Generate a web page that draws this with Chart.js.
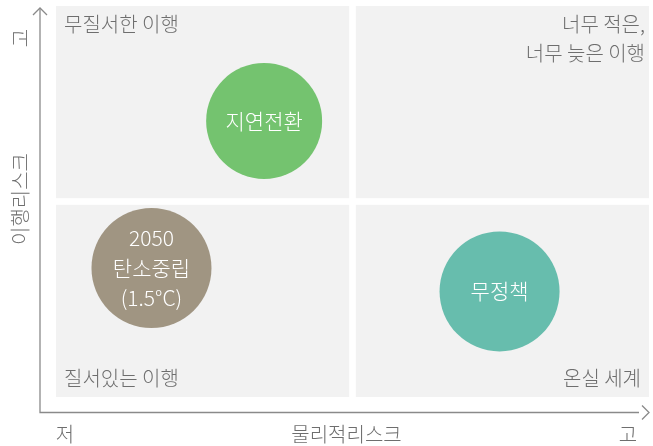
<!DOCTYPE html>
<html>
<head>
<meta charset="utf-8">
<script src="https://cdn.jsdelivr.net/npm/chart.js@4.4.1/dist/chart.umd.min.js"></script>
<style>
  html, body { margin: 0; padding: 0; background: #fff; }
  #wrap { width: 653px; height: 446px; position: relative; }
</style>
</head>
<body>
<div id="wrap"><canvas id="matrix"></canvas></div>
<script>
// 시나리오 데이터 (x: 물리적리스크, y: 이행리스크, 0~10)
const scenarioNames = [['지연전환'], ['2050', '탄소중립', '(1.5°C)'], ['무정책']];
const physicalRisk = [3.51, 1.61, 7.48];
const transitionRisk = [7.06, 3.30, 2.70];
const bubbleSize = [58, 60, 60];
const bubbleColors = ['#74c36f', '#a09582', '#67bdad'];

// 사분면 라벨
const quadrantLabels = {
    topLeft: ['무질서한 이행'],
    topRight: ['너무 적은,', '너무 늦은 이행'],
    bottomLeft: ['질서있는 이행'],
    bottomRight: ['온실 세계']
};
const xAxisLabels = ['저', '물리적리스크', '고'];
const yAxisLabels = ['고', '이행리스크'];

const FONT = '"Noto Sans CJK KR", "Noto Sans", sans-serif';
const gray = '#6e6e6e';
const axisGray = '#8a8a8a';

// 배경, 축, 라벨 그리기
const matrixPlugin = {
    id: 'matrix',
    beforeDatasetsDraw(chart) {
        const { ctx, chartArea: a, scales } = chart;
        const midX = scales.x.getPixelForValue(5);
        const midY = scales.y.getPixelForValue(5);
        const gap = 3.3;

        ctx.save();
        ctx.fillStyle = '#f2f2f2';
        ctx.fillRect(a.left, a.top, midX - gap - a.left, midY - gap - a.top);
        ctx.fillRect(midX + gap, a.top, a.right - midX - gap, midY - gap - a.top);
        ctx.fillRect(a.left, midY + gap, midX - gap - a.left, a.bottom - midY - gap);
        ctx.fillRect(midX + gap, midY + gap, a.right - midX - gap, a.bottom - midY - gap);

        // 축 화살표
        const ax = a.left - 16;
        const ay = a.bottom + 15.5;
        ctx.strokeStyle = axisGray;
        ctx.lineWidth = 1.3;
        ctx.beginPath();
        ctx.moveTo(ax, a.top + 2);
        ctx.lineTo(ax, ay);
        ctx.lineTo(a.right - 10, ay);
        ctx.stroke();
        ctx.beginPath();
        ctx.moveTo(ax - 7, a.top + 9);
        ctx.lineTo(ax, a.top + 2);
        ctx.lineTo(ax + 7, a.top + 9);
        ctx.stroke();
        ctx.beginPath();
        ctx.moveTo(a.right - 7, ay - 7);
        ctx.lineTo(a.right, ay);
        ctx.lineTo(a.right - 7, ay + 7);
        ctx.stroke();

        // 사분면 라벨
        ctx.fillStyle = gray;
        ctx.font = '300 20px ' + FONT;
        ctx.textBaseline = 'middle';
        ctx.textAlign = 'left';
        quadrantLabels.topLeft.forEach((t, i) => ctx.fillText(t, a.left + 8, a.top + 18 + i * 29));
        quadrantLabels.bottomLeft.forEach((t, i) => ctx.fillText(t, a.left + 8, a.bottom - 19 + i * 29));
        ctx.textAlign = 'right';
        quadrantLabels.topRight.forEach((t, i) => ctx.fillText(t, a.right - 4, a.top + 18 + i * 29));
        quadrantLabels.bottomRight.forEach((t, i) => ctx.fillText(t, a.right - 8, a.bottom - 19 + i * 29));

        // x축 라벨
        ctx.textAlign = 'center';
        const ly = a.bottom + 37;
        ctx.fillText(xAxisLabels[0], a.left + 9, ly);
        ctx.fillText(xAxisLabels[1], (a.left + a.right) / 2 - 6, ly);
        ctx.fillText(xAxisLabels[2], a.right - 21, ly);

        // y축 라벨 (회전)
        ctx.save();
        ctx.translate(20, 0);
        ctx.rotate(-Math.PI / 2);
        ctx.fillText(yAxisLabels[0], -38, 0);
        ctx.fillText(yAxisLabels[1], -199, 0);
        ctx.restore();
        ctx.restore();
    },
    afterDatasetsDraw(chart) {
        const { ctx } = chart;
        const meta = chart.getDatasetMeta(0);
        ctx.save();
        ctx.fillStyle = '#ffffff';
        ctx.font = '300 21px ' + FONT;
        ctx.textAlign = 'center';
        ctx.textBaseline = 'middle';
        meta.data.forEach((el, i) => {
            const lines = scenarioNames[i];
            const lh = 30;
            const y0 = el.y - (lines.length - 1) * lh / 2;
            lines.forEach((t, j) => ctx.fillText(t, el.x, y0 + j * lh));
        });
        ctx.restore();
    }
};

const chart = new Chart(document.getElementById('matrix'), {
    type: 'bubble',
    data: {
        datasets: [{
            data: physicalRisk.map((x, i) => ({ x: x, y: transitionRisk[i], r: bubbleSize[i] })),
            backgroundColor: bubbleColors,
            borderWidth: 0,
            hoverBorderWidth: 0
        }]
    },
    options: {
        responsive: true,
        maintainAspectRatio: false,
        animation: false,
        layout: { autoPadding: false, padding: { left: 56, top: 6, right: 4, bottom: 49 } },
        plugins: { legend: { display: false }, tooltip: { enabled: false } },
        scales: {
            x: { type: 'linear', min: 0, max: 10, display: false },
            y: { type: 'linear', min: 0, max: 10, display: false }
        }
    },
    plugins: [matrixPlugin]
});
</script>
</body>
</html>
